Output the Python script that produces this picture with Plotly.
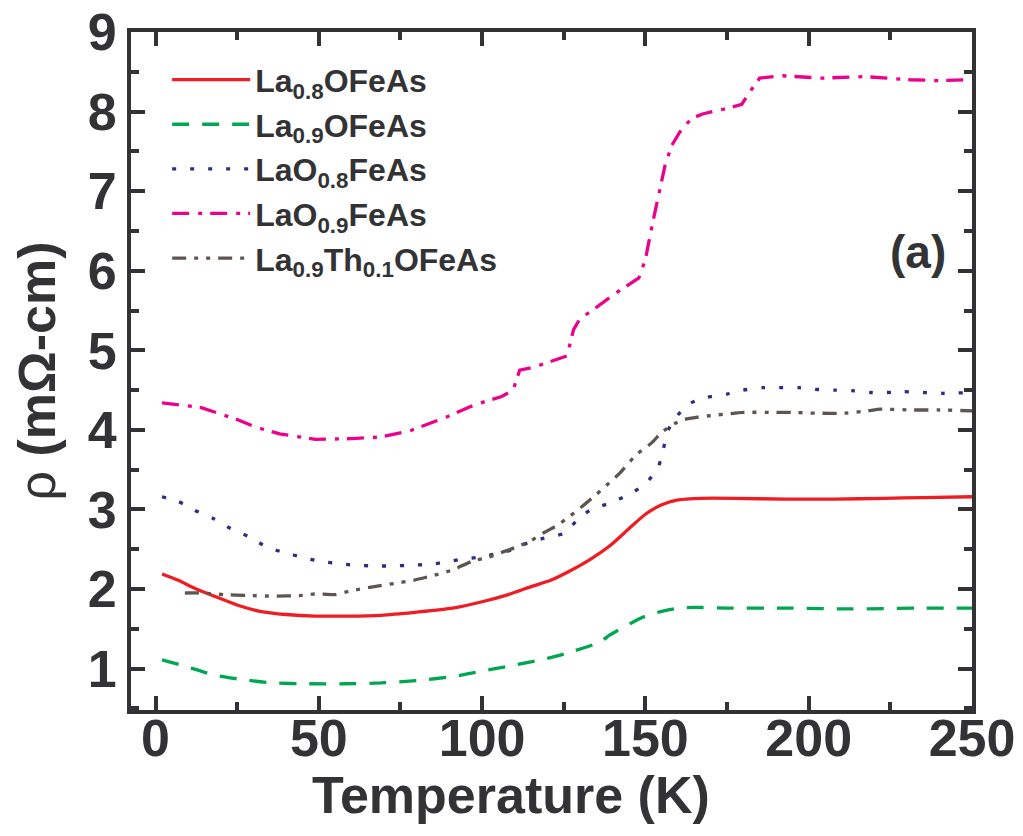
import plotly.graph_objects as go

# ---------------- data ----------------
T_la08 = [2, 7, 12, 18, 25, 32, 40, 49, 58, 69, 80, 91, 100, 108, 115, 121, 127, 133, 139, 145, 150, 155, 160, 167, 177, 193, 208, 223, 235, 250]
R_la08 = [2.19, 2.11, 2.01, 1.91, 1.80, 1.72, 1.68, 1.66, 1.66, 1.67, 1.71, 1.76, 1.84, 1.93, 2.03, 2.11, 2.23, 2.37, 2.54, 2.76, 2.94, 3.06, 3.12, 3.14, 3.14, 3.13, 3.13, 3.14, 3.15, 3.16]

T_la09 = [2, 9, 18, 27, 36, 47, 58, 69, 80, 91, 100, 108, 118, 124, 128, 134, 137, 139, 146, 150, 155, 160, 165, 175, 193, 213, 233, 250]
R_la09 = [1.11, 1.03, 0.92, 0.86, 0.82, 0.81, 0.81, 0.82, 0.85, 0.90, 0.97, 1.03, 1.11, 1.17, 1.22, 1.30, 1.36, 1.42, 1.58, 1.66, 1.72, 1.76, 1.77, 1.76, 1.76, 1.75, 1.76, 1.76]

T_o08 = [2, 7, 12, 18, 23, 29, 34, 40, 45, 50, 56, 61, 67, 73, 78, 84, 89, 93, 99, 104, 109, 114, 119, 125, 129, 133, 139, 145, 150, 154, 155.5, 157, 160, 164, 169, 175, 180, 186, 191, 197, 202, 208, 214, 219, 224, 229, 235, 241, 250]
R_o08 = [3.16, 3.10, 2.99, 2.88, 2.76, 2.65, 2.53, 2.45, 2.40, 2.35, 2.32, 2.30, 2.29, 2.29, 2.30, 2.31, 2.34, 2.37, 2.40, 2.44, 2.49, 2.58, 2.64, 2.70, 2.86, 2.99, 3.08, 3.19, 3.32, 3.54, 3.76, 4.00, 4.19, 4.34, 4.41, 4.45, 4.50, 4.53, 4.53, 4.53, 4.51, 4.50, 4.49, 4.47, 4.47, 4.48, 4.47, 4.46, 4.47]

T_o09 = [2, 14, 25, 31, 38, 49, 60, 69, 78, 89, 98, 106, 109.5, 111.5, 116, 126, 128, 130, 134, 141, 148, 150, 152, 154, 156, 158, 160.5, 164, 167.5, 175, 179.5, 182, 185, 192, 204, 217, 231, 239, 250]
R_o09 = [4.34, 4.28, 4.13, 4.03, 3.95, 3.88, 3.89, 3.91, 3.99, 4.16, 4.32, 4.42, 4.50, 4.75, 4.79, 4.93, 5.26, 5.40, 5.51, 5.72, 5.91, 6.14, 6.56, 6.94, 7.32, 7.57, 7.74, 7.91, 7.97, 8.04, 8.09, 8.25, 8.42, 8.45, 8.42, 8.44, 8.40, 8.39, 8.40]

T_th = [9, 14, 21, 28, 36, 45, 49, 55, 60, 67, 73, 79, 84, 91, 97, 102, 106, 110, 115, 119, 123, 127, 131, 135, 138, 142, 147, 152, 155, 159, 162, 166, 170, 175, 180, 190, 195, 202, 211, 218, 222, 232, 240, 250]
R_th = [1.95, 1.95, 1.93, 1.92, 1.91, 1.92, 1.94, 1.93, 1.98, 2.03, 2.07, 2.11, 2.16, 2.24, 2.35, 2.40, 2.46, 2.52, 2.61, 2.71, 2.80, 2.92, 3.05, 3.19, 3.30, 3.45, 3.68, 3.84, 3.97, 4.08, 4.13, 4.16, 4.18, 4.20, 4.22, 4.22, 4.22, 4.21, 4.21, 4.24, 4.26, 4.25, 4.25, 4.24]

names = [
    "La<sub>0.8</sub>OFeAs",
    "La<sub>0.9</sub>OFeAs",
    "LaO<sub>0.8</sub>FeAs",
    "LaO<sub>0.9</sub>FeAs",
    "La<sub>0.9</sub>Th<sub>0.1</sub>OFeAs",
]
x_ticks = [0, 50, 100, 150, 200, 250]
y_ticks = [1, 2, 3, 4, 5, 6, 7, 8, 9]

# ---------------- figure ----------------
INK = "#333336"
FONT = "Liberation Sans, Arial, sans-serif"

series = [
    (T_la08, R_la08, "#EE1D23", "solid", "spline"),
    (T_la09, R_la09, "#00A650", "17px,13px", "spline"),
    (T_o08, R_o08, "#2B2E83", "4px,14px", "spline"),
    (T_o09, R_o09, "#EC008C", "17px,9px,4px,8px", "linear"),
    (T_th, R_th, "#5F5550", "14px,8px,4px,8px,4px,8px", "spline"),
]

fig = go.Figure()
for (tx, ry, col, dash, shape), nm in zip(series, names):
    fig.add_trace(go.Scatter(
        x=tx, y=ry, mode="lines", name=nm,
        line=dict(color=col, width=3.3, dash=dash, shape=shape, smoothing=0.6),
    ))

axis_common = dict(
    showline=True, linewidth=4, linecolor=INK, mirror="allticks",
    ticks="inside", ticklen=14, tickwidth=4, tickcolor=INK,
    showgrid=False, zeroline=False, automargin=False,
    ticklabeloverflow="allow",
    tickfont=dict(family=FONT, size=52, color=INK, weight="bold"),
)

fig.update_xaxes(
    range=[-7.5, 250], tickvals=x_ticks,
    minor=dict(dtick=25, tick0=0, ticks="inside", ticklen=8, tickwidth=4, tickcolor=INK, showgrid=False),
    ticklabelstandoff=-20,
    **axis_common,
)
fig.update_yaxes(
    range=[0.48, 9.0], tickvals=y_ticks,
    minor=dict(dtick=0.5, tick0=0, ticks="inside", ticklen=8, tickwidth=4, tickcolor=INK, showgrid=False),
    title=dict(text="ρ <b>(mΩ-cm)</b>", font=dict(family=FONT, size=52, color=INK), standoff=22),
    ticklabelstandoff=0,
    **axis_common,
)

fig.add_annotation(
    text="<b>Temperature (K)</b>", xref="paper", yref="paper",
    x=0.452, y=-0.125, xanchor="center", yanchor="middle", showarrow=False,
    font=dict(family=FONT, size=52, color=INK),
)
fig.add_annotation(
    text="<b>(a)</b>", xref="paper", yref="paper",
    x=0.936, y=0.676, xanchor="center", yanchor="middle", showarrow=False,
    font=dict(family=FONT, size=46, color=INK),
)

# the page body adds an 8px offset, so the margins are shifted to compensate
fig.update_layout(
    width=1023, height=836, autosize=False,
    margin=dict(l=123, r=59, t=24, b=134),
    paper_bgcolor="white", plot_bgcolor="white",
    showlegend=True,
    legend=dict(
        x=0.043, y=0.97, xanchor="left", yanchor="top",
        bgcolor="rgba(0,0,0,0)", itemwidth=78,
        font=dict(family=FONT, size=32, color=INK, weight="bold"),
    ),
)

fig.write_html("out.html")
